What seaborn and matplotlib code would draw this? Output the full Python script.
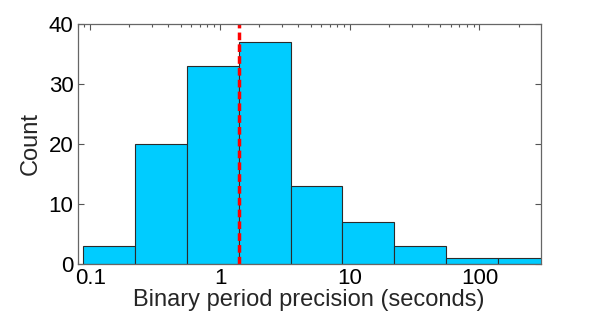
import matplotlib
matplotlib.use("Agg")
import matplotlib.pyplot as plt
import numpy as np
import pandas as pd
import seaborn as sns
from matplotlib.ticker import LogLocator, NullLocator

# bin edges (seconds, log-spaced) and counts
bin_edges = [0.0879, 0.2208, 0.5546, 1.393, 3.499, 8.79, 22.08, 55.46, 139.3, 349.9]
counts = [3, 20, 33, 37, 13, 7, 3, 1, 1]
median_precision = 1.41

x_ticks = [0.1, 1, 10, 100]
x_ticklabels = ["0.1", "1", "10", "100"]
y_ticks = [0, 10, 20, 30, 40]


def main() -> None:
    sns.set_style("ticks")
    plt.rcParams["font.family"] = ["Liberation Sans", "DejaVu Sans"]

    log_edges = np.log10(bin_edges)
    df = pd.DataFrame({
        "precision": 10 ** ((log_edges[:-1] + log_edges[1:]) / 2),
        "n": counts,
    })

    fig = plt.figure(figsize=(5.98, 3.16), dpi=100)
    ax = fig.add_axes([0.130, 0.1646, 0.774, 0.7595])

    sns.histplot(
        data=df,
        x="precision",
        weights="n",
        bins=log_edges.tolist(),
        log_scale=True,
        color="#00CCFF",
        edgecolor="#2b2b2b",
        linewidth=0.8,
        alpha=1.0,
        ax=ax,
    )
    ax.axvline(median_precision, color="red", linestyle=(0, (2.2, 1.2)), linewidth=2.5)

    ax.set_xlim(0.080, 296)
    ax.set_ylim(0, 40)
    ax.set_xticks(x_ticks, labels=x_ticklabels)
    ax.xaxis.set_minor_locator(LogLocator(base=10, subs=np.arange(2, 10)))
    ax.set_yticks(y_ticks)
    ax.yaxis.set_minor_locator(NullLocator())

    ax.tick_params(axis="both", which="both", direction="in", top=True, right=True,
                   colors="#555555", labelcolor="black", labelsize=16, width=0.8)
    ax.tick_params(axis="both", which="major", length=4.5, pad=3)
    ax.tick_params(axis="x", which="minor", length=2.5)
    for spine in ax.spines.values():
        spine.set_color("#666666")
        spine.set_linewidth(0.9)

    ax.set_xlabel("Binary period precision (seconds)", fontsize=17, labelpad=0)
    ax.set_ylabel("Count", fontsize=17, labelpad=5)

    fig.savefig("out.png", dpi=100)
    plt.close(fig)


if __name__ == "__main__":
    main()
